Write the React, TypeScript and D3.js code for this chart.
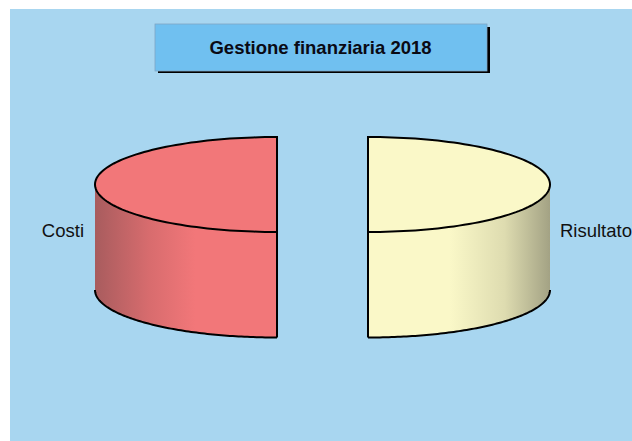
import React from "react";
import * as d3 from "d3";

const categories = ["Costi", "Risultato"];
const values = [50, 50];
const topColors = ["#f27779", "#faf8c8"];
const shadeColors = ["#a85c5e", "#a3a284"];
const title = "Gestione finanziaria 2018";

const W = 632, H = 441;
const rx = 182, ry = 47.5, depth = 105.5, cy = 184.5;
const centers = [277, 368];
const font = "'Liberation Sans', Arial, sans-serif";

const pie = d3.pie<number>().sort(null).startAngle(Math.PI).endAngle(3 * Math.PI);
const arcs = pie(values);

function pts(a0: number, a1: number, cx: number, y: number): [number, number][] {
  const s = d3.scaleLinear().domain([0, 96]).range([a0, a1]);
  return d3.range(97).map((i) => [cx + rx * Math.sin(s(i)), y - ry * Math.cos(s(i))] as [number, number]);
}
const line = d3.line();

export default function App() {
  return (
    <svg width={W} height={H} viewBox={`0 0 ${W} ${H}`}
      style={{ position: "absolute", left: 0, top: 0, background: "#fff" }}>
      <defs>
        <linearGradient id="side0" gradientUnits="userSpaceOnUse" x1={95} x2={277} y1={0} y2={0}>
          <stop offset="0" stopColor={shadeColors[0]} />
          <stop offset="0.3" stopColor="#d86c6e" />
          <stop offset="0.55" stopColor={topColors[0]} />
          <stop offset="1" stopColor={topColors[0]} />
        </linearGradient>
        <linearGradient id="side1" gradientUnits="userSpaceOnUse" x1={368} x2={550} y1={0} y2={0}>
          <stop offset="0" stopColor={topColors[1]} />
          <stop offset="0.45" stopColor={topColors[1]} />
          <stop offset="0.75" stopColor="#dedcb0" />
          <stop offset="1" stopColor={shadeColors[1]} />
        </linearGradient>
      </defs>
      <rect x={10} y={9} width={W - 10} height={H - 9} fill="#a8d6f0" />
      <rect x={158} y={27} width={332} height={46} fill="#000" />
      <rect x={155} y={24} width={332} height={47} fill="#70c0f0" stroke="#7fa6c4" strokeWidth={0.8} />
      <text x={320.5} y={54} textAnchor="middle" fontFamily={font} fontWeight="bold" fontSize={18.5} fill="#0a0a14">{title}</text>
      {arcs.map((d, i) => {
        const cx = centers[i];
        const top = pts(d.startAngle, d.endAngle, cx, cy);
        // Visible wall: the quarter of the rim that faces the viewer, from the outer side down to the front
        const wallTop = i === 0 ? pts(Math.PI, 1.5 * Math.PI, cx, cy) : pts(2.5 * Math.PI, 3 * Math.PI, cx, cy);
        const wallBottom = wallTop.map(([x, y]) => [x, y + depth] as [number, number]);
        const sidePath = line([...wallTop, ...wallBottom.slice().reverse()]) + "Z";
        return (
          <g key={categories[i]}>
            <path d={sidePath} fill={`url(#side${i})`} />
            <path d={line(wallBottom) ?? ""} fill="none" stroke="#000" strokeWidth={2} />
            <path d={line(top) + "Z"} fill={topColors[i]} stroke="#000" strokeWidth={2} strokeLinejoin="miter" />
            <line x1={cx} x2={cx} y1={cy} y2={cy + ry + depth} stroke="#000" strokeWidth={2} />
          </g>
        );
      })}
      <text x={84} y={236.5} textAnchor="end" fontFamily={font} fontSize={18.5} fill="#111">{categories[0]}</text>
      <text x={560} y={236.5} fontFamily={font} fontSize={18.5} fill="#111">{categories[1]}</text>
    </svg>
  );
}
